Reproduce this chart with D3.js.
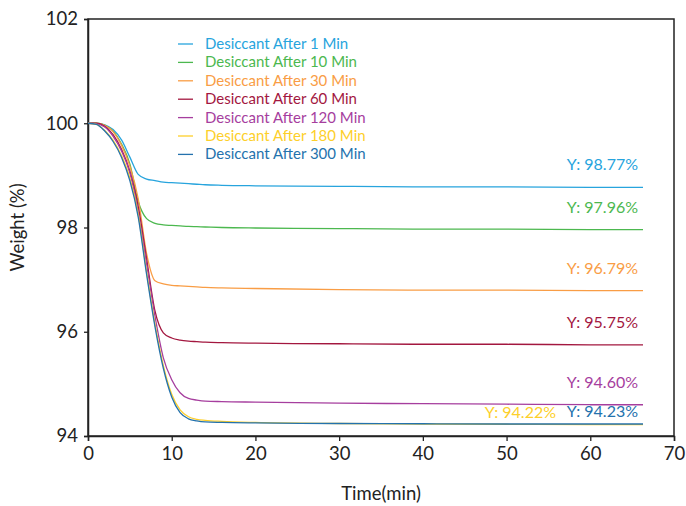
<!DOCTYPE html>
<html>
<head>
<meta charset="utf-8">
<script src="https://cdn.jsdelivr.net/npm/d3@7"></script>
<style>
  body { margin: 0; background: #fff; }
  svg text { font-family: Lato, "Noto Sans", sans-serif; }
</style>
</head>
<body>
<div id="chart"></div>
<script>
// time points (min) shared by all runs
var times = [0, 1, 2, 3, 4, 5, 6, 7, 8, 9, 10, 11, 12, 13, 14, 16, 20, 30, 40, 50, 60, 66.3];

var seriesNames = ["Desiccant After 1 Min", "Desiccant After 10 Min", "Desiccant After 30 Min",
    "Desiccant After 60 Min", "Desiccant After 120 Min", "Desiccant After 180 Min", "Desiccant After 300 Min"];
var seriesColors = ["#27a4dd", "#4cb84f", "#f99d45", "#a3173f", "#a63e9e", "#fdcf2a", "#2472ad"];
var finalLabels = ["Y: 98.77%", "Y: 97.96%", "Y: 96.79%", "Y: 95.75%", "Y: 94.60%", "Y: 94.22%", "Y: 94.23%"];

var w1 = [100, 100, 99.97, 99.88, 99.68, 99.35, 99.02, 98.93, 98.9, 98.87, 98.86, 98.85, 98.84, 98.83, 98.82, 98.81, 98.8, 98.79, 98.78, 98.78, 98.77, 98.77];
var w10 = [100, 100, 99.96, 99.85, 99.6, 99.22, 98.5, 98.17, 98.08, 98.05, 98.04, 98.03, 98.02, 98.015, 98.01, 98.0, 97.99, 97.98, 97.97, 97.97, 97.96, 97.96];
var w30 = [100, 100, 99.96, 99.84, 99.58, 99.18, 98.55, 97.5, 96.98, 96.92, 96.89, 96.88, 96.87, 96.86, 96.85, 96.84, 96.83, 96.81, 96.8, 96.8, 96.79, 96.79];
var w60 = [100, 100, 99.94, 99.78, 99.5, 99.08, 98.4, 97.4, 96.4, 95.98, 95.88, 95.84, 95.82, 95.81, 95.8, 95.79, 95.78, 95.77, 95.76, 95.76, 95.75, 95.75];
var w120 = [100, 99.99, 99.93, 99.75, 99.47, 99.05, 98.3, 97.3, 96.3, 95.5, 95.08, 94.83, 94.72, 94.69, 94.67, 94.66, 94.65, 94.63, 94.62, 94.61, 94.6, 94.6];
var w180 = [100, 99.98, 99.86, 99.67, 99.38, 98.95, 98.25, 97.15, 96.15, 95.35, 94.8, 94.5, 94.37, 94.32, 94.3, 94.28, 94.26, 94.24, 94.23, 94.225, 94.22, 94.22];
var w300 = [100, 99.98, 99.85, 99.65, 99.35, 98.9, 98.2, 97.1, 96.1, 95.3, 94.75, 94.45, 94.33, 94.29, 94.27, 94.26, 94.25, 94.24, 94.235, 94.23, 94.23, 94.23];
var weights = [w1, w10, w30, w60, w120, w180, w300];

var xTicks = [0, 10, 20, 30, 40, 50, 60, 70];
var yTicks = [94, 96, 98, 100, 102];

var width = 686, height = 506;
var margin = {top: 19, right: 12, bottom: 70, left: 88};

var svg = d3.select("#chart").append("svg")
    .attr("width", width)
    .attr("height", height);

var x = d3.scaleLinear().domain([0, 70]).range([margin.left, width - margin.right]);
var y = d3.scaleLinear().domain([94, 102]).range([height - margin.bottom, margin.top]);

// frame
svg.append("rect")
    .attr("x", x(0)).attr("y", y(102))
    .attr("width", x(70) - x(0)).attr("height", y(94) - y(102))
    .attr("fill", "none").attr("stroke", "#222").attr("stroke-width", 1.5);

var xAxis = svg.append("g")
    .attr("transform", "translate(0," + y(94) + ")")
    .call(d3.axisBottom(x).tickValues(xTicks).tickSize(5).tickPadding(6));
var yAxis = svg.append("g")
    .attr("transform", "translate(" + x(0) + ",0)")
    .call(d3.axisLeft(y).tickValues(yTicks).tickSize(4).tickPadding(6));

[xAxis, yAxis].forEach(function(g){
    g.select(".domain").attr("stroke", "#222").attr("stroke-width", 1.5);
    g.selectAll(".tick line").attr("stroke", "#222").attr("stroke-width", 1.3);
    g.selectAll(".tick text").attr("fill", "#222").style("font-size", "18.5px")
        .style("font-family", "Lato, sans-serif");
});

svg.append("text")
    .attr("x", (x(0) + x(70)) / 2).attr("y", 500)
    .attr("text-anchor", "middle")
    .attr("fill", "#222").style("font-size", "18.5px")
    .text("Time(min)");

svg.append("text")
    .attr("transform", "translate(24," + (y(98)) + ") rotate(-90)")
    .attr("text-anchor", "middle")
    .attr("fill", "#222").style("font-size", "18.5px")
    .text("Weight (%)");

var line = d3.line()
    .x(function(d){ return x(d[0]); })
    .y(function(d){ return y(d[1]); })
    .curve(d3.curveMonotoneX);

weights.forEach(function(ws, i){
    var pts = times.map(function(t, j){ return [t, ws[j]]; });
    svg.append("path")
        .datum(pts)
        .attr("fill", "none")
        .attr("stroke", seriesColors[i])
        .attr("stroke-width", 1.3)
        .attr("d", line);
});

// end labels
weights.forEach(function(ws, i){
    var last = ws[ws.length - 1];
    var lx = x(times[times.length - 1]) - 5;
    var ly = y(last) - 17;
    if(i == 5){ lx = x(times[times.length - 1]) - 87; ly = y(last) - 7; }
    if(i == 6){ ly = y(last) - 7; }
    svg.append("text")
        .attr("x", lx).attr("y", ly)
        .attr("text-anchor", "end")
        .attr("fill", seriesColors[i])
        .style("font-size", "16px")
        .text(finalLabels[i]);
});

// legend
var legend = svg.append("g");
seriesNames.forEach(function(name, i){
    var ly = 44 + i * 18.4;
    legend.append("line")
        .attr("x1", 178).attr("x2", 193)
        .attr("y1", ly).attr("y2", ly)
        .attr("stroke", seriesColors[i]).attr("stroke-width", 1.3);
    legend.append("text")
        .attr("x", 205).attr("y", ly + 5)
        .attr("fill", seriesColors[i])
        .style("font-size", "15px")
        .text(name);
});
</script>
</body>
</html>
